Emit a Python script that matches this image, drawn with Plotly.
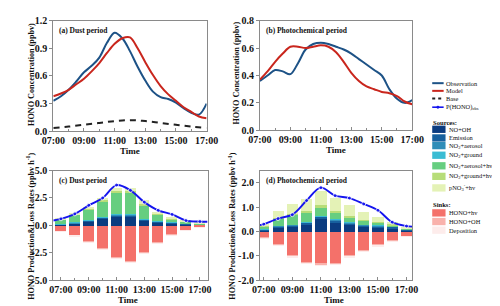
import plotly.graph_objects as go

# ---------------- data ----------------
# (a) Dust period, HONO concentration (ppbv), half-hourly
t_half = [7, 7.5, 8, 8.5, 9, 9.5, 10, 10.5, 11, 11.5, 12, 12.5, 13, 13.5, 14, 14.5, 15, 15.5, 16, 16.5, 17]
obs_a = [0.33, 0.38, 0.45, 0.54, 0.64, 0.71, 0.80, 0.96, 1.07, 1.01, 0.87, 0.70, 0.55, 0.43, 0.37, 0.35, 0.31, 0.25, 0.20, 0.18, 0.30]
model_a = [0.38, 0.41, 0.45, 0.51, 0.57, 0.65, 0.74, 0.85, 0.95, 1.01, 1.02, 0.90, 0.75, 0.61, 0.49, 0.40, 0.33, 0.26, 0.21, 0.16, 0.14]
hours = [7, 8, 9, 10, 11, 12, 13, 14, 15, 16, 17]
base_a = [0.035, 0.05, 0.07, 0.09, 0.11, 0.12, 0.11, 0.09, 0.07, 0.05, 0.035]

# (b) Photochemical period
obs_b = [0.36, 0.40, 0.44, 0.43, 0.41, 0.49, 0.59, 0.63, 0.64, 0.63, 0.61, 0.59, 0.56, 0.52, 0.48, 0.44, 0.40, 0.30, 0.23, 0.20, 0.22]
model_b = [0.37, 0.43, 0.50, 0.56, 0.61, 0.61, 0.60, 0.61, 0.62, 0.61, 0.57, 0.50, 0.42, 0.36, 0.32, 0.30, 0.28, 0.27, 0.25, 0.21, 0.19]

# (c) Dust period, production & loss rates (ppbv h-1)
src_names = ["NO+OH", "Emission", "NO<sub>2</sub>+aerosol", "NO<sub>2</sub>+ground",
             "NO<sub>2</sub>+aerosol+hv", "NO<sub>2</sub>+ground+hv", "pNO<sub>3</sub><sup>-</sup>+hv"]
sink_names = ["HONO+hv", "HONO+OH", "Deposition"]

src_c = [
    [0.08, 0.20, 0.40, 0.65, 0.88, 0.85, 0.48, 0.30, 0.22, 0.14, 0.10],
    [0.03, 0.05, 0.06, 0.08, 0.10, 0.10, 0.07, 0.05, 0.05, 0.04, 0.03],
    [0.02, 0.03, 0.04, 0.05, 0.06, 0.06, 0.05, 0.03, 0.03, 0.02, 0.02],
    [0.01, 0.02, 0.02, 0.03, 0.03, 0.03, 0.02, 0.02, 0.02, 0.01, 0.01],
    [0.40, 0.70, 1.00, 1.45, 1.90, 1.93, 1.20, 0.60, 0.28, 0.15, 0.05],
    [0.05, 0.05, 0.08, 0.12, 0.20, 0.20, 0.15, 0.08, 0.06, 0.04, 0.02],
    [0.05, 0.05, 0.12, 0.17, 0.25, 0.32, 0.40, 0.20, 0.12, 0.10, 0.07],
]
sink_c = [
    [-0.48, -0.88, -1.42, -2.10, -2.90, -3.25, -2.45, -1.52, -0.82, -0.40, -0.12],
    [-0.04, -0.05, -0.07, -0.08, -0.10, -0.10, -0.08, -0.07, -0.05, -0.04, -0.03],
    [-0.01, -0.01, -0.01, -0.01, -0.01, -0.01, -0.01, -0.01, -0.01, -0.01, -0.01],
]
p_obs_x_c = [6.45, 7, 8, 9, 10, 11, 12, 13, 14, 15, 16, 17, 17.55]
p_obs_c = [0.45, 0.60, 1.05, 1.83, 2.50, 3.68, 3.20, 2.12, 1.37, 1.00, 0.44, 0.35, 0.33]

# (d) Photochemical period
src_d = [
    [0.06, 0.18, 0.21, 0.30, 0.53, 0.38, 0.29, 0.21, 0.19, 0.15, 0.07],
    [0.03, 0.05, 0.06, 0.07, 0.09, 0.08, 0.07, 0.06, 0.05, 0.05, 0.03],
    [0.01, 0.02, 0.02, 0.02, 0.03, 0.03, 0.02, 0.02, 0.02, 0.01, 0.01],
    [0.01, 0.01, 0.01, 0.02, 0.02, 0.02, 0.01, 0.01, 0.01, 0.01, 0.00],
    [0.11, 0.27, 0.40, 0.39, 0.35, 0.28, 0.21, 0.16, 0.11, 0.06, 0.02],
    [0.02, 0.04, 0.05, 0.06, 0.08, 0.06, 0.05, 0.04, 0.04, 0.03, 0.01],
    [0.09, 0.30, 0.41, 0.51, 0.59, 0.55, 0.44, 0.30, 0.18, 0.09, 0.02],
]
sink_d = [
    [-0.24, -0.53, -0.98, -1.24, -1.32, -1.28, -0.99, -0.76, -0.54, -0.37, -0.18],
    [-0.03, -0.04, -0.05, -0.05, -0.05, -0.05, -0.04, -0.04, -0.04, -0.03, -0.02],
    [-0.01, -0.01, -0.01, -0.01, -0.01, -0.01, -0.01, -0.01, -0.01, -0.01, -0.01],
]
p_obs_x_d = [6.73, 7, 8, 9, 10, 11, 12, 13, 14, 15, 16, 17, 17.4]
p_obs_d = [0.26, 0.30, 0.53, 0.69, 1.27, 1.80, 1.47, 1.37, 1.13, 0.87, 0.38, 0.22, 0.20]

# tick labels
time_vals = [7, 9, 11, 13, 15, 17]
time_labels = ["07:00", "09:00", "11:00", "13:00", "15:00", "17:00"]
ya_vals = [0, 0.3, 0.6, 0.9, 1.2]
ya_labels = ["0.0", "0.3", "0.6", "0.9", "1.2"]
yb_vals = [0, 0.2, 0.4, 0.6, 0.8]
yb_labels = ["0.0", "0.2", "0.4", "0.6", "0.8"]
yc_vals = [-5, -2.5, 0, 2.5, 5]
yc_labels = ["-5.0", "-2.5", "0.0", "2.5", "5.0"]
yd_vals = [-2, -1, 0, 1, 2]
yd_labels = ["-2.0", "-1.0", "0.0", "1.0", "2.0"]

line_names = ["Observation", "Model", "Base", "P(HONO)<sub>obs</sub>"]

# ---------------- styles ----------------
W, H = 500, 306
FONT = "Liberation Serif"
C_OBS = "#1D5286"
C_MOD = "#C9261D"
C_BASE = "#222222"
C_P = "#1515EE"
src_colors = ["#0B3C80", "#17609E", "#2F8DB8", "#3BBCD3", "#66CE80", "#B7DD78", "#E4F2B6"]
sink_colors = ["#F4716A", "#F9B2AC", "#FDECEB"]
FRAME = "#8A8A8A"
BAR_W = 0.78


def px(x):
    return x / W


def py(y):
    return 1 - y / H


fig = go.Figure()

# (a)
fig.add_trace(go.Scatter(x=t_half, y=obs_a, mode="lines", line=dict(color=C_OBS, width=2, shape="spline"),
                         xaxis="x", yaxis="y", showlegend=False))
fig.add_trace(go.Scatter(x=t_half, y=model_a, mode="lines", line=dict(color=C_MOD, width=2, shape="spline"),
                         xaxis="x", yaxis="y", showlegend=False))
fig.add_trace(go.Scatter(x=hours, y=base_a, mode="lines", line=dict(color=C_BASE, width=2, shape="spline", dash="6px,5px"),
                         xaxis="x", yaxis="y", showlegend=False))
# (b)
fig.add_trace(go.Scatter(x=t_half, y=obs_b, mode="lines", line=dict(color=C_OBS, width=2, shape="spline"),
                         xaxis="x2", yaxis="y2", showlegend=False))
fig.add_trace(go.Scatter(x=t_half, y=model_b, mode="lines", line=dict(color=C_MOD, width=2, shape="spline"),
                         xaxis="x2", yaxis="y2", showlegend=False))

# (c), (d) bars
for xa, ya, srcs, sinks in (("x3", "y3", src_c, sink_c), ("x4", "y4", src_d, sink_d)):
    for vals, col, nm in zip(srcs, src_colors, src_names):
        fig.add_trace(go.Bar(x=hours, y=vals, width=BAR_W, marker=dict(color=col, line=dict(width=0)),
                             name=nm, xaxis=xa, yaxis=ya, showlegend=False))
    for vals, col, nm in zip(sinks, sink_colors, sink_names):
        fig.add_trace(go.Bar(x=hours, y=vals, width=BAR_W, marker=dict(color=col, line=dict(width=0)),
                             name=nm, xaxis=xa, yaxis=ya, showlegend=False))

for xa, ya, xs, ys in (("x3", "y3", p_obs_x_c, p_obs_c), ("x4", "y4", p_obs_x_d, p_obs_d)):
    sizes = [0] + [4] * (len(xs) - 2) + [0]
    fig.add_trace(go.Scatter(x=xs, y=ys, mode="lines+markers",
                             line=dict(color=C_P, width=1.9, shape="spline"),
                             marker=dict(color=C_P, size=sizes),
                             xaxis=xa, yaxis=ya, showlegend=False, cliponaxis=True))

tickfont = dict(family=FONT, size=10, color="#111", weight="bold")


def xaxis(domain, rng, anchor):
    return dict(domain=domain, range=rng, anchor=anchor, tickmode="array", tickvals=time_vals,
                ticktext=time_labels, ticks="inside", ticklen=3, tickcolor=FRAME, tickwidth=1,
                showline=True, mirror=True, linecolor=FRAME, linewidth=1, showgrid=False, zeroline=False,
                tickfont=tickfont,
                minor=dict(tickmode="linear", tick0=7, dtick=1, ticks="inside", ticklen=2, tickcolor=FRAME))


def yaxis(domain, rng, anchor, vals, labels):
    return dict(domain=domain, range=rng, anchor=anchor, tickmode="array", tickvals=vals, ticktext=labels,
                ticks="outside", ticklen=3, tickcolor=FRAME, tickwidth=1, showline=True, mirror=True,
                linecolor=FRAME, linewidth=1, showgrid=False, zeroline=False, tickfont=tickfont)


top_dom = [py(122), py(7)]
top_dom_b = [py(121), py(7)]
bot_dom = [py(277), py(163)]

fig.update_layout(
    width=W, height=H, margin=dict(l=0, r=0, t=0, b=0),
    paper_bgcolor="white", plot_bgcolor="white",
    barmode="relative", bargap=0,
    xaxis=xaxis([px(35), px(196)], [7, 17], "y"),
    yaxis=yaxis(top_dom, [0, 1.2], "x", ya_vals, ya_labels),
    xaxis2=xaxis([px(252), px(412)], [7, 17], "y2"),
    yaxis2=yaxis(top_dom_b, [0, 0.8], "x2", yb_vals, yb_labels),
    xaxis3=xaxis([px(35), px(197)], [6.45, 17.55], "y3"),
    yaxis3=yaxis(bot_dom, [-5, 5], "x3", yc_vals, yc_labels),
    xaxis4=xaxis([px(252), px(412)], [6.73, 17.4], "y4"),
    yaxis4=yaxis(bot_dom, [-2, 2.5], "x4", yd_vals, yd_labels),
    showlegend=False,
)

ann = []
bold = dict(family=FONT, color="#111", weight="bold")
# panel labels
for txt, xr, yr in (("(a) Dust period", "x", "y"), ("(b) Photochemical period", "x2", "y2"),
                    ("(c) Dust period", "x3", "y3"), ("(d) Photochemical period", "x4", "y4")):
    ann.append(dict(text=txt, xref=xr + " domain", yref=yr + " domain", x=0.025, y=0.97,
                    xanchor="left", yanchor="top", showarrow=False, font=dict(bold, size=7.5)))
# x titles
for xc, yc in ((116, 143), (332, 142), (113, 298), (330, 298)):
    ann.append(dict(text="Time", xref="paper", yref="paper", x=px(xc), y=py(yc), xanchor="center",
                    yanchor="middle", showarrow=False, font=dict(bold, size=9)))
# y titles
for txt, xc, yc in (("HONO Concentration (ppbv)", 12, 63), ("HONO Concentration (ppbv)", 228, 62),
                    ("HONO Production&Loss Rates (ppbv h<sup>-1</sup>)", 11, 221),
                    ("HONO Production&Loss Rates (ppbv h<sup>-1</sup>)", 223, 221)):
    ann.append(dict(text=txt, xref="paper", yref="paper", x=px(xc), y=py(yc), xanchor="center",
                    yanchor="middle", textangle=-90, showarrow=False, font=dict(bold, size=8.2)))

# ---------------- manual legend ----------------
shapes = []
leg_font = dict(family=FONT, size=6.4, color="#111")
line_y = [72, 80, 88, 97]
line_styles = [dict(color=C_OBS, width=2), dict(color=C_MOD, width=2),
               dict(color=C_BASE, width=2, dash="3px,3px"), dict(color=C_P, width=1.6)]
for nm, yy, st in zip(line_names, line_y, line_styles):
    shapes.append(dict(type="line", xref="paper", yref="paper", x0=px(433), x1=px(445), y0=py(yy), y1=py(yy), line=st))
    ann.append(dict(text=nm, xref="paper", yref="paper", x=px(445.5), y=py(yy), xanchor="left", yanchor="middle",
                    showarrow=False, font=leg_font))
shapes.append(dict(type="circle", xref="paper", yref="paper", x0=px(437.5), x1=px(440.5), y0=py(98.5), y1=py(95.5),
                   fillcolor=C_P, line=dict(width=0)))

ann.append(dict(text="Sources:", xref="paper", yref="paper", x=px(432), y=py(113), xanchor="left", yanchor="middle",
                showarrow=False, font=dict(bold, size=6.6)))
src_y = [120, 129, 137, 147, 158, 169, 181]
for nm, yy, col in zip(src_names, src_y, src_colors):
    shapes.append(dict(type="rect", xref="paper", yref="paper", x0=px(433), x1=px(447), y0=py(yy + 3.8), y1=py(yy - 3.8),
                       fillcolor=col, line=dict(width=0)))
    ann.append(dict(text=nm, xref="paper", yref="paper", x=px(448.5), y=py(yy), xanchor="left", yanchor="middle",
                    showarrow=False, font=leg_font))

ann.append(dict(text="Sinks:", xref="paper", yref="paper", x=px(432), y=py(198), xanchor="left", yanchor="middle",
                showarrow=False, font=dict(bold, size=6.6)))
sink_y = [207, 216, 225]
for nm, yy, col in zip(sink_names, sink_y, sink_colors):
    shapes.append(dict(type="rect", xref="paper", yref="paper", x0=px(433), x1=px(447), y0=py(yy + 3.8), y1=py(yy - 3.8),
                       fillcolor=col, line=dict(width=0)))
    ann.append(dict(text=nm, xref="paper", yref="paper", x=px(448.5), y=py(yy), xanchor="left", yanchor="middle",
                    showarrow=False, font=leg_font))

fig.update_layout(annotations=ann, shapes=shapes)
fig.write_html("out.html")
